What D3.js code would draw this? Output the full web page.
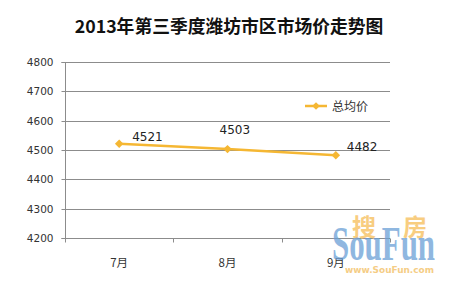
<!DOCTYPE html>
<html><head><meta charset="utf-8">
<script src="https://cdn.jsdelivr.net/npm/d3@7"></script>
<style>body{margin:0;background:#fff}svg{display:block}</style>
</head><body>
<svg id="c" width="450" height="285"></svg>
<script>
const title = "2013年第三季度潍坊市区市场价走势图";
const categories = ["7月", "8月", "9月"];
const seriesName = "总均价";
const values = [4521, 4503, 4482];
const yTicks = [4200, 4300, 4400, 4500, 4600, 4700, 4800];

(function () {
const svg = d3.select("#c");
const W = 450, H = 285;
svg.append("rect").attr("width", W).attr("height", H).attr("fill", "#fff");

const mL = 65, mR = 390, mT = 62, mB = 238;
const x = d3.scaleBand().domain(categories).range([mL, mR]);
const y = d3.scaleLinear().domain([4200, 4800]).range([mB, mT]);
const gray = "#8c8c8c";
const font = "'Noto Sans CJK SC', 'DejaVu Sans', sans-serif";

// title
svg.append("text").attr("x", 229).attr("y", 33).attr("text-anchor", "middle")
  .attr("font-family", font).attr("font-weight", "bold").attr("font-size", 17.8)
  .attr("fill", "#111").text(title);

// gridlines
svg.append("g").selectAll("line").data(yTicks.filter(t => t !== 4200)).join("line")
  .attr("x1", mL).attr("x2", mR)
  .attr("y1", d => Math.round(y(d)) + 0.5).attr("y2", d => Math.round(y(d)) + 0.5)
  .attr("stroke", gray).attr("stroke-width", 1);

// y axis
const ya = svg.append("g").attr("transform", `translate(${mL + 0.5},0)`)
  .call(d3.axisLeft(y).tickValues(yTicks).tickSize(4).tickPadding(8).tickFormat(d3.format("d")));
ya.selectAll("path,line").attr("stroke", gray);
ya.select(".domain").attr("d", `M-4,${Math.round(y(4800)) + 0.5}H0V${Math.round(y(4200)) + 0.5}H-4`);
ya.selectAll("text").attr("font-family", "'DejaVu Sans', sans-serif").attr("font-size", 10.5).attr("fill", "#333");
ya.selectAll(".tick").attr("transform", d => `translate(0,${Math.round(y(d)) + 0.5})`);

// x axis
const xa = svg.append("g").attr("transform", `translate(0,${Math.round(y(4200)) + 0.5})`);
xa.append("line").attr("x1", mL).attr("x2", mR).attr("stroke", gray);
const bounds = categories.map(c => x(c)).concat([mR]);
xa.selectAll("line.t").data(bounds).join("line").attr("class", "t")
  .attr("x1", d => Math.round(d) + 0.5).attr("x2", d => Math.round(d) + 0.5)
  .attr("y1", 0).attr("y2", 4).attr("stroke", gray);
xa.selectAll("text").data(categories).join("text")
  .attr("x", d => x(d) + x.bandwidth() / 2).attr("y", 28)
  .attr("text-anchor", "middle").attr("font-family", font).attr("font-size", 11.5)
  .attr("fill", "#333").text(d => d);

// line
const color = "#f5b733";
const pts = values.map((v, i) => [x(categories[i]) + x.bandwidth() / 2, y(v)]);
svg.append("path").attr("d", d3.line()(pts)).attr("fill", "none")
  .attr("stroke", color).attr("stroke-width", 2.5);
svg.selectAll("path.m").data(pts).join("path").attr("class", "m")
  .attr("d", d3.symbol().type(d3.symbolSquare).size(36)())
  .attr("transform", d => `translate(${d[0]},${d[1]}) rotate(45)`)
  .attr("fill", color);

// data labels
const offs = [[13, -3], [-8, -15], [11, -4]];
svg.selectAll("text.l").data(values).join("text").attr("class", "l")
  .attr("x", (d, i) => pts[i][0] + offs[i][0]).attr("y", (d, i) => pts[i][1] + offs[i][1])
  .attr("font-family", "'DejaVu Sans', sans-serif").attr("font-size", 12).attr("fill", "#222")
  .text(d => d);

// legend
const lg = svg.append("g").attr("transform", "translate(305,106)");
lg.append("line").attr("x1", 0).attr("x2", 22).attr("stroke", color).attr("stroke-width", 2.5);
lg.append("path").attr("d", d3.symbol().type(d3.symbolSquare).size(30)())
  .attr("transform", "translate(11,0) rotate(45)").attr("fill", color);
lg.append("text").attr("x", 27).attr("y", 4.5).attr("font-family", font).attr("font-size", 12)
  .attr("fill", "#333").text(seriesName);

// watermark
const wm = svg.append("g");
wm.append("text").attr("x", 352).attr("y", 236).attr("font-family", font).attr("font-weight", "bold")
  .attr("font-size", 24).attr("fill", "#f7c56a").attr("opacity", 0.85).text("搜");
wm.append("text").attr("x", 403).attr("y", 236).attr("font-family", font).attr("font-weight", "bold")
  .attr("font-size", 24).attr("fill", "#f7c56a").attr("opacity", 0.85).text("房");
wm.append("text").attr("x", 332).attr("y", 260).attr("font-family", "'Liberation Serif', serif")
  .attr("font-weight", "bold").attr("font-size", 48).attr("textLength", 103).attr("lengthAdjust", "spacingAndGlyphs")
  .attr("fill", "#6a9fd6").attr("opacity", 0.75).text("SouFun");
wm.append("text").attr("x", 345).attr("y", 273).attr("font-family", "'DejaVu Sans', sans-serif")
  .attr("font-weight", "bold").attr("font-size", 9).attr("textLength", 89).attr("lengthAdjust", "spacingAndGlyphs")
  .attr("fill", "#f5c878").attr("opacity", 0.9).text("www.SouFun.com");
})();
</script>
</body></html>
